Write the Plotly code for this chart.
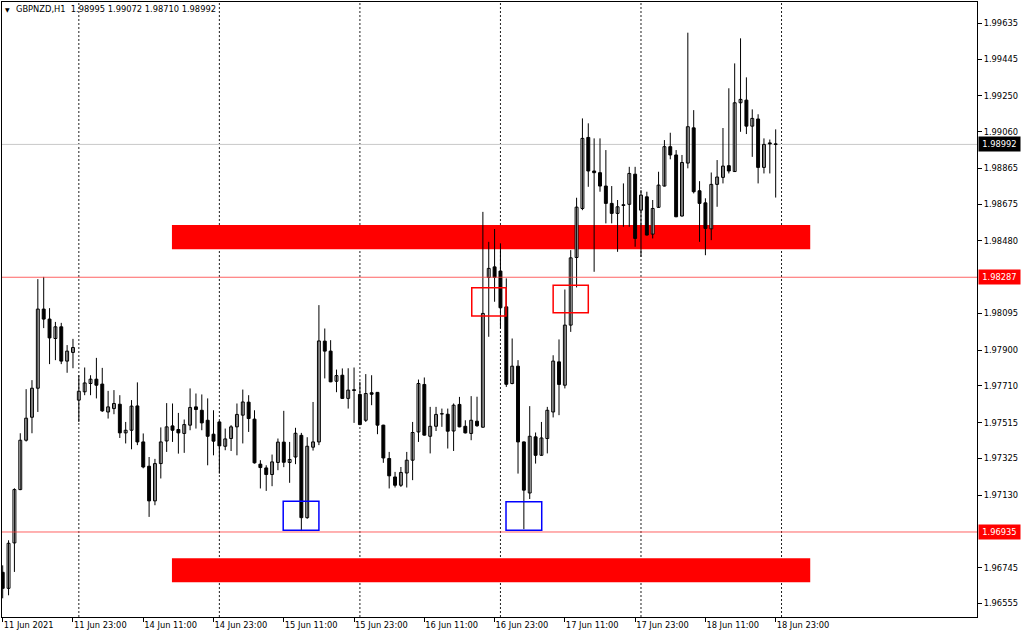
import plotly.graph_objects as go

# ---------------- data ----------------
symbol = "GBPNZD,H1"

# hourly bar times (11 Jun 11:00 .. 18 Jun 23:00, weekend skipped)
times = [f"11 Jun {h:02d}:00" for h in range(11, 24)]
for d in (14, 15, 16, 17, 18):
    times += [f"{d} Jun {h:02d}:00" for h in range(24)]

open_ = [1.96721, 1.96636, 1.96877, 1.97160, 1.97422, 1.97544, 1.97698, 1.98118, 1.98065, 1.97962,
         1.98024, 1.97842, 1.97888, 1.97635, 1.97679, 1.97723, 1.97746, 1.97720, 1.97572, 1.97590,
         1.97613, 1.97461, 1.97475, 1.97604, 1.97413, 1.97284, 1.97100, 1.97298, 1.97418, 1.97498,
         1.97479, 1.97458, 1.97502, 1.97599, 1.97581, 1.97528, 1.97454, 1.97519, 1.97390, 1.97431,
         1.97493, 1.97555, 1.97624, 1.97534, 1.97295, 1.97275, 1.97240, 1.97304, 1.97412, 1.97304,
         1.97333, 1.97448, 1.97011, 1.97385, 1.97413, 1.97948, 1.97895, 1.97735, 1.97767, 1.97644,
         1.97690, 1.97665, 1.97528, 1.97674, 1.97676, 1.97502, 1.97325, 1.97227, 1.97183, 1.97248,
         1.97316, 1.97466, 1.97718, 1.97443, 1.97496, 1.97561, 1.97560, 1.97471, 1.97612, 1.97496,
         1.97458, 1.97523, 1.97491, 1.98286, 1.98342, 1.98320, 1.98130, 1.97723, 1.97815, 1.97413,
         1.97142, 1.97440, 1.97342, 1.97431, 1.97572, 1.97838, 1.97714, 1.98033, 1.98392, 1.98652,
         1.99029, 1.98851, 1.98842, 1.98771, 1.98679, 1.98626, 1.98668, 1.98674, 1.98834, 1.98643,
         1.98714, 1.98516, 1.98658, 1.98771, 1.98980, 1.98936, 1.98612, 1.98893, 1.99080, 1.98746,
         1.98682, 1.98544, 1.98780, 1.98817, 1.98879, 1.98848, 1.99213, 1.99227, 1.99089, 1.99127,
         1.98870, 1.99000, 1.98995]
high = [1.96758, 1.96891, 1.97167, 1.97459, 1.97693, 1.97741, 1.98277, 1.98289, 1.98123, 1.98050,
        1.98045, 1.97927, 1.97960, 1.97767, 1.97808, 1.97767, 1.97859, 1.97806, 1.97684, 1.97688,
        1.97661, 1.97519, 1.97635, 1.97729, 1.97458, 1.97333, 1.97323, 1.97490, 1.97619, 1.97617,
        1.97567, 1.97532, 1.97697, 1.97670, 1.97665, 1.97644, 1.97581, 1.97525, 1.97484, 1.97502,
        1.97617, 1.97691, 1.97661, 1.97581, 1.97316, 1.97289, 1.97346, 1.97431, 1.97578, 1.97413,
        1.97488, 1.97461, 1.97438, 1.97625, 1.98139, 1.98015, 1.97953, 1.97797, 1.97803, 1.97804,
        1.97808, 1.97732, 1.97773, 1.97767, 1.97678, 1.97504, 1.97360, 1.97254, 1.97280, 1.97360,
        1.97519, 1.97744, 1.97755, 1.97599, 1.97599, 1.97590, 1.97590, 1.97617, 1.97652, 1.97528,
        1.97656, 1.97653, 1.98634, 1.98475, 1.98543, 1.98467, 1.98281, 1.97962, 1.97847, 1.97415,
        1.97603, 1.97463, 1.97519, 1.97599, 1.97873, 1.97957, 1.98222, 1.98431, 1.98709, 1.99130,
        1.99104, 1.99024, 1.99024, 1.98962, 1.98771, 1.98697, 1.98785, 1.98873, 1.98873, 1.98750,
        1.98741, 1.98697, 1.98847, 1.99015, 1.99054, 1.98962, 1.98936, 1.99585, 1.99174, 1.98797,
        1.98706, 1.98843, 1.98909, 1.99079, 1.99290, 1.99422, 1.99555, 1.99348, 1.99178, 1.99152,
        1.99024, 1.99018, 1.99072]
low = [1.96583, 1.96599, 1.96723, 1.97157, 1.97415, 1.97459, 1.97572, 1.98017, 1.97826, 1.97847,
       1.97826, 1.97780, 1.97804, 1.97519, 1.97661, 1.97661, 1.97644, 1.97572, 1.97537, 1.97560,
       1.97434, 1.97405, 1.97374, 1.97396, 1.97273, 1.97015, 1.97077, 1.97219, 1.97360, 1.97413,
       1.97351, 1.97355, 1.97475, 1.97484, 1.97475, 1.97289, 1.97342, 1.97245, 1.97369, 1.97365,
       1.97342, 1.97405, 1.97466, 1.97298, 1.97166, 1.97153, 1.97178, 1.97263, 1.97279, 1.97196,
       1.97295, 1.96940, 1.97005, 1.97367, 1.97396, 1.97750, 1.97730, 1.97677, 1.97643, 1.97590,
       1.97514, 1.97502, 1.97519, 1.97608, 1.97454, 1.97302, 1.97166, 1.97171, 1.97174, 1.97171,
       1.97210, 1.97413, 1.97447, 1.97352, 1.97471, 1.97493, 1.97378, 1.97365, 1.97491, 1.97458,
       1.97422, 1.97493, 1.97489, 1.97971, 1.98157, 1.98016, 1.97705, 1.97719, 1.97245, 1.96950,
       1.97110, 1.97298, 1.97340, 1.97352, 1.97543, 1.97555, 1.97697, 1.97997, 1.98233, 1.98643,
       1.98767, 1.98316, 1.98741, 1.98573, 1.98573, 1.98422, 1.98555, 1.98555, 1.98449, 1.98395,
       1.98509, 1.98493, 1.98656, 1.98769, 1.98913, 1.98606, 1.98609, 1.98865, 1.98732, 1.98475,
       1.98404, 1.98484, 1.98661, 1.98785, 1.98838, 1.98846, 1.99059, 1.99047, 1.98926, 1.98785,
       1.98838, 1.98838, 1.98710]
close = [1.96636, 1.96875, 1.97160, 1.97422, 1.97539, 1.97698, 1.98118, 1.98065, 1.97965, 1.98024,
         1.97842, 1.97895, 1.97914, 1.97682, 1.97726, 1.97746, 1.97714, 1.97578, 1.97599, 1.97617,
         1.97461, 1.97475, 1.97603, 1.97413, 1.97280, 1.97100, 1.97298, 1.97413, 1.97493, 1.97475,
         1.97461, 1.97505, 1.97596, 1.97585, 1.97514, 1.97443, 1.97417, 1.97392, 1.97429, 1.97493,
         1.97559, 1.97625, 1.97537, 1.97302, 1.97277, 1.97240, 1.97307, 1.97412, 1.97305, 1.97320,
         1.97459, 1.97011, 1.97390, 1.97413, 1.97949, 1.97895, 1.97732, 1.97765, 1.97644, 1.97688,
         1.97686, 1.97505, 1.97670, 1.97666, 1.97502, 1.97328, 1.97233, 1.97183, 1.97251, 1.97316,
         1.97463, 1.97723, 1.97449, 1.97496, 1.97559, 1.97563, 1.97470, 1.97608, 1.97493, 1.97461,
         1.97528, 1.97499, 1.98095, 1.98334, 1.98286, 1.98125, 1.97719, 1.97815, 1.97413, 1.97157,
         1.97443, 1.97342, 1.97434, 1.97581, 1.97842, 1.97718, 1.98033, 1.98390, 1.98659, 1.99024,
         1.98851, 1.98842, 1.98771, 1.98679, 1.98626, 1.98661, 1.98672, 1.98838, 1.98493, 1.98723,
         1.98511, 1.98652, 1.98776, 1.98980, 1.98936, 1.98608, 1.98896, 1.99086, 1.98741, 1.98679,
         1.98546, 1.98780, 1.98819, 1.98877, 1.98851, 1.99213, 1.99231, 1.99089, 1.99130, 1.98870,
         1.98992, 1.98995, 1.98992]

x_tick_labels = ["11 Jun 2021", "11 Jun 23:00", "14 Jun 11:00", "14 Jun 23:00", "15 Jun 11:00",
                 "15 Jun 23:00", "16 Jun 11:00", "16 Jun 23:00", "17 Jun 11:00", "17 Jun 23:00",
                 "18 Jun 11:00", "18 Jun 23:00"]
x_tick_times = ["11 Jun 11:00"] + x_tick_labels[1:]

y_tick_values = [1.99635, 1.99445, 1.99250, 1.99060, 1.98865, 1.98675, 1.98480, 1.98095,
                 1.97900, 1.97710, 1.97515, 1.97325, 1.97130, 1.96745, 1.96555]

# analyst drawings
support_resistance = [1.98287, 1.96935]
zones = [(1.98436, 1.98564), (1.96668, 1.96796)]          # filled red zones (price ranges)
zone_span = (28.9, 137.9)                                  # bar index span
red_boxes = [((80.1, 85.95), (1.98081, 1.98231)), ((94.0, 100.0), (1.98098, 1.98245))]
blue_boxes = [((47.9, 54.0), (1.96944, 1.97098)), ((85.95, 92.05), (1.96944, 1.97095))]

y_range = [1.964838, 1.997479]
x_range = [-0.12, 166.38]

# ---------------- figure ----------------
FONT = "DejaVu Sans"
FS = 8.3
n = len(close)
idx = list(range(n))

fig = go.Figure()

wx, wy = [], []
for i in idx:
    wx += [i, i, None]
    wy += [low[i], high[i], None]
fig.add_trace(go.Scatter(x=wx, y=wy, mode="lines", line=dict(color="black", width=1),
                         hoverinfo="skip", showlegend=False))

MIN_BODY = 0.000012
bull = [i for i in idx if close[i] >= open_[i]]
bear = [i for i in idx if close[i] < open_[i]]
for sel, fill in ((bull, "white"), (bear, "black")):
    fig.add_trace(go.Bar(
        x=sel,
        base=[min(open_[i], close[i]) for i in sel],
        y=[max(abs(close[i] - open_[i]), MIN_BODY) for i in sel],
        width=0.5,
        marker=dict(color=fill, line=dict(color="black", width=1)),
        hoverinfo="skip", showlegend=False))

shapes = []
# period separators (day starts)
day_starts = [i for i, t in enumerate(times) if t.endswith("00:00")] + [n]
for i in day_starts:
    shapes.append(dict(type="line", xref="x", yref="paper", x0=i, x1=i, y0=0, y1=1,
                       line=dict(color="#202020", width=1, dash="2px,2px"), layer="below"))
# bid line
shapes.append(dict(type="line", xref="paper", yref="y", x0=0, x1=1, y0=close[-1], y1=close[-1],
                   line=dict(color="#c8c8c8", width=1), layer="below"))
for lo, hi in zones:
    shapes.append(dict(type="rect", xref="x", yref="y", x0=zone_span[0], x1=zone_span[1],
                       y0=lo, y1=hi, fillcolor="#ff0000", line=dict(width=0), layer="below"))
for lvl in support_resistance:
    shapes.append(dict(type="line", xref="paper", yref="y", x0=0, x1=1, y0=lvl, y1=lvl,
                       line=dict(color="rgba(255,60,60,0.8)", width=1), layer="above"))
for (xa, xb), (ya, yb) in red_boxes:
    shapes.append(dict(type="rect", xref="x", yref="y", x0=xa, x1=xb, y0=ya, y1=yb,
                       line=dict(color="#ff0000", width=1.5), layer="above"))
for (xa, xb), (ya, yb) in blue_boxes:
    shapes.append(dict(type="rect", xref="x", yref="y", x0=xa, x1=xb, y0=ya, y1=yb,
                       line=dict(color="#0000ff", width=1.5), layer="above"))

annotations = []
header = f"{symbol}  {open_[-1]:.5f} {high[-1]:.5f} {low[-1]:.5f} {close[-1]:.5f}"
annotations.append(dict(xref="paper", yref="paper", x=0, y=1, xanchor="left", yanchor="middle",
                        xshift=1, yshift=-7, text="▼", showarrow=False,
                        font=dict(family=FONT, size=6, color="black")))
annotations.append(dict(xref="paper", yref="paper", x=0, y=1, xanchor="left", yanchor="middle",
                        xshift=12, yshift=-7, text=header, showarrow=False,
                        font=dict(family=FONT, size=FS, color="black")))
price_labels = [(close[-1], "black")] + [(v, "#ff0000") for v in support_resistance]
for v, col in price_labels:
    annotations.append(dict(xref="paper", yref="y", x=1, y=v, xanchor="left", yanchor="middle",
                            xshift=1, text=f"{v:.5f}", showarrow=False, bgcolor=col,
                            width=39, height=12, borderpad=1, align="center",
                            font=dict(family=FONT, size=FS, color="white")))

tick_pos = [times.index(t) for t in x_tick_times]

fig.update_layout(
    width=1024, height=635,
    margin=dict(l=2, r=47, t=2, b=18, autoexpand=False),
    paper_bgcolor="white", plot_bgcolor="white",
    barmode="overlay", showlegend=False,
    font=dict(family=FONT, size=FS, color="black"),
    shapes=shapes, annotations=annotations,
    xaxis=dict(range=x_range, showgrid=False, zeroline=False, showline=True, linecolor="black",
               linewidth=1, mirror=True, ticks="outside", ticklen=4, tickcolor="black",
               tickmode="array", tickvals=tick_pos, ticktext=x_tick_labels,
               ticklabelposition="outside right", automargin=False,
               tickfont=dict(family=FONT, size=FS, color="black"), fixedrange=True),
    yaxis=dict(range=y_range, side="right", showgrid=False, zeroline=False, showline=True,
               linecolor="black", linewidth=1, mirror=True, ticks="outside", ticklen=4,
               tickcolor="black", tickmode="array", tickvals=y_tick_values,
               ticktext=[f"{v:.5f}" for v in y_tick_values], automargin=False,
               tickfont=dict(family=FONT, size=FS, color="black"), fixedrange=True),
)

fig.write_html("out.html", config={"displayModeBar": False},
               post_script="document.body.style.margin='0';document.body.style.padding='0';"
                           "document.body.style.overflow='hidden';")
